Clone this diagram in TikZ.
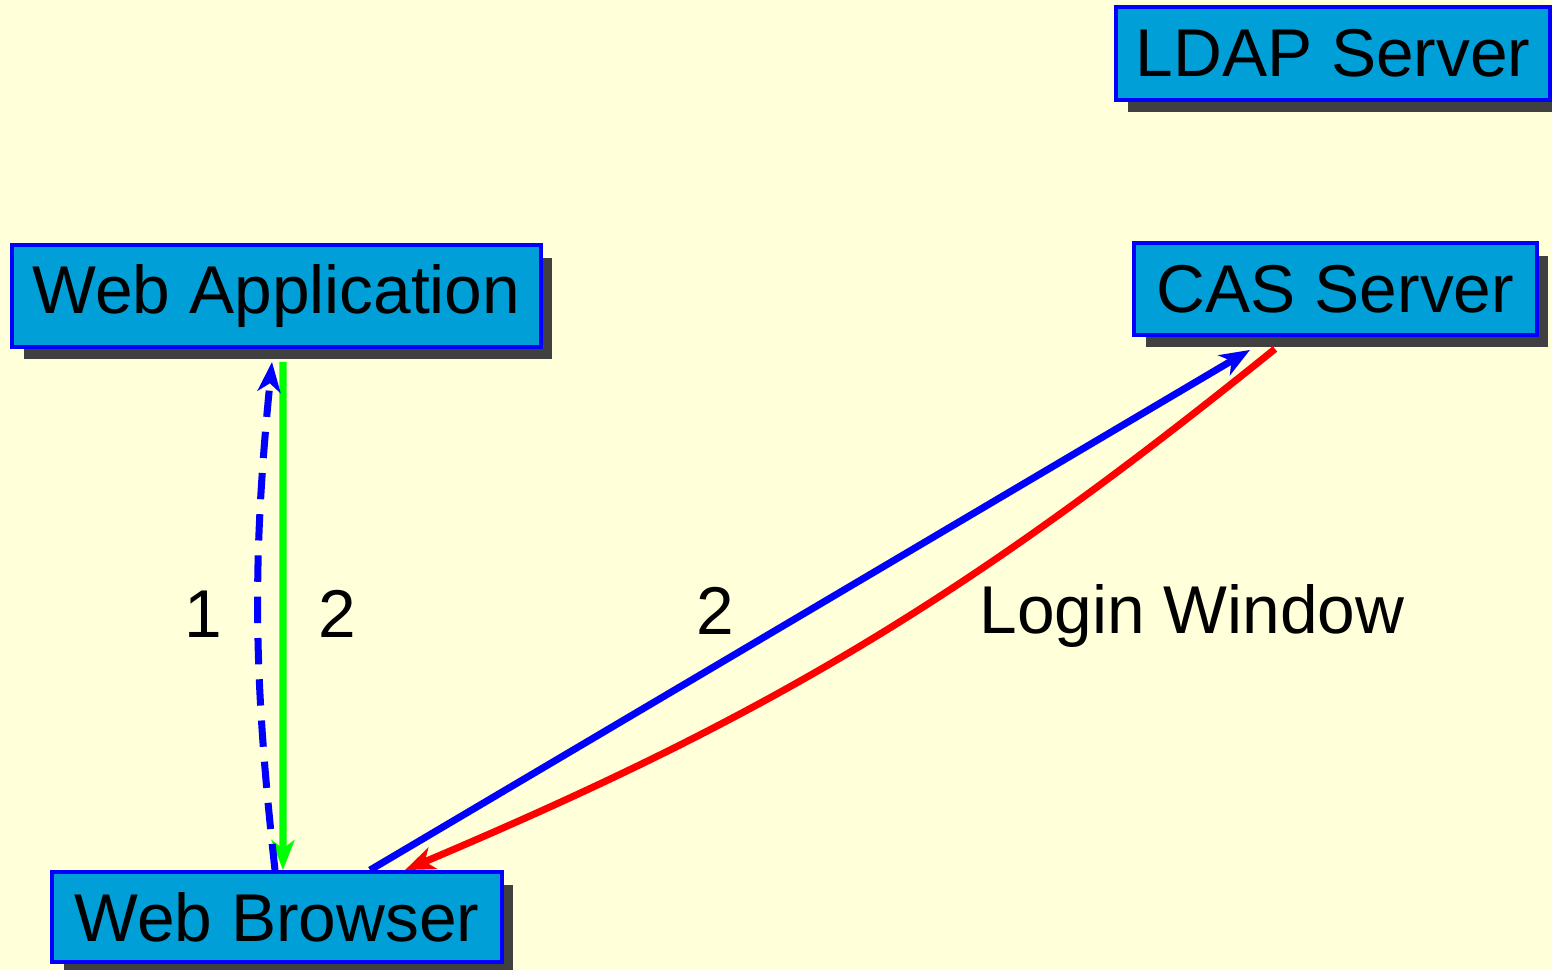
\documentclass[tikz,border=0pt]{standalone}
\usepackage{fontspec}
\setmainfont{Liberation Sans}
\usetikzlibrary{arrows.meta,shadows,calc}
\definecolor{bgyellow}{HTML}{FFFFD9}
\definecolor{boxblue}{HTML}{009FD8}
\definecolor{shadowgray}{HTML}{404040}
\definecolor{linkgreen}{HTML}{00FF00}

\begin{document}
\begin{tikzpicture}[x=0.02cm,y=-0.02cm,
    box/.style={draw=blue, line width=2.2pt, fill=boxblue, inner sep=0pt,
      font=\fontsize{38.5}{46}\selectfont,
      drop shadow={shadow xshift=0.23cm, shadow yshift=-0.25cm, fill=shadowgray, opacity=1}},
    lbl/.style={anchor=base, font=\fontsize{38.5}{46}\selectfont},
    link/.style={line width=4pt, -{Stealth[length=0.6cm,width=0.46cm,inset=0.17cm]}}]
		\path[use as bounding box, fill=bgyellow] (0,0) rectangle (1552,970);

			% boxes
			\node[box, minimum width=10.58cm, minimum height=2.04cm] (webapp) at (276.5,296) {Web Application};
			\node[box, minimum width=8.06cm, minimum height=1.84cm] (cas) at (1335.5,289) {CAS Server};
			\node[box, minimum width=8.68cm, minimum height=1.86cm] (ldap) at (1333,53.5) {LDAP Server};
			\node[box, minimum width=9.0cm, minimum height=1.8cm] (browser) at (277,917) {Web Browser};

			% links
			\draw [link, linkgreen] ($(webapp.south)+(6.5,13)$) -- ($(browser.north)+(6,0)$);
			\draw [link, blue, dash pattern=on 15pt off 8.5pt] ($(browser.north)+(-2,0)$) to[bend left=6] ($(webapp.south)+(-4.5,13)$);
			\draw [link, blue] ($(browser.north)+(93,0)$) -- ($(cas.south)+(-85.5,13)$);
			\draw [link, red] ($(cas.south)+(-60.5,12)$) to[bend left=8] ($(browser.north)+(128,0)$);

			% labels
			\node[lbl] (one) at (203,637) {1};
			\node[lbl] (twoleft) at (337,637) {2};
			\node[lbl] (twomid) at (715,634) {2};
			\node[lbl] (login) at (1192,633) {Login Window};

		\end{tikzpicture}
\end{document}
